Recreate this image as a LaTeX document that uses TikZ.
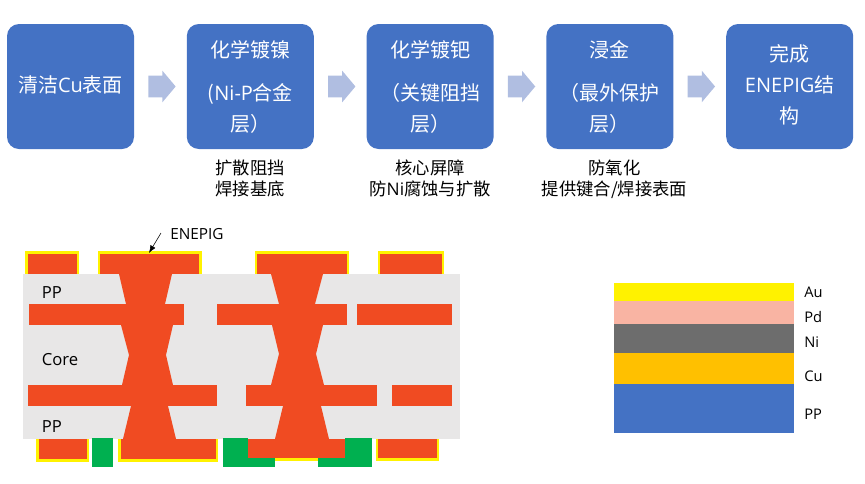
\documentclass[tikz,border=0pt]{standalone}
\usepackage{fontspec}
\usepackage{xcolor}
\setmainfont{Noto Sans CJK SC}
\newfontfamily\latinfont{Open Sans}
\usetikzlibrary{arrows.meta,positioning,shapes.arrows}
\definecolor{boxblue}{HTML}{4472C4}
\definecolor{arrblue}{HTML}{B0BEE1}
\definecolor{cured}{HTML}{F04B22}
\definecolor{coregrey}{HTML}{E8E7E7}
\definecolor{maskgreen}{HTML}{00B050}
\definecolor{pdpink}{HTML}{F9B4A3}
\definecolor{nigrey}{HTML}{6D6D6D}
\definecolor{cuorange}{HTML}{FFC000}
\newcommand{\upline}[2]{\raisebox{#1}[\height][\depth]{#2}}

\begin{document}
\begin{tikzpicture}[
  x=0.75pt,y=-0.75pt,
  node distance=39.6pt and 39.6pt,
  stepbox/.style={fill=boxblue,rounded corners=9pt,align=center,text=white,minimum width=95.25pt,minimum height=93.75pt,inner sep=0pt,outer sep=0pt,font=\fontsize{15}{23}\selectfont},
  flowarr/.style={single arrow,fill=arrblue,minimum height=20.5pt,single arrow head extend=3.75pt,single arrow tip angle=100,inner sep=0pt,outer sep=0pt,xshift=-2.2pt},
  note/.style={align=center,inner sep=0pt,font=\fontsize{13}{15.75}\selectfont},
  lbl/.style={inner sep=0pt,font=\latinfont\fontsize{12.5}{15}\selectfont},
  leg/.style={anchor=west,inner sep=0pt,font=\latinfont\fontsize{11}{13}\selectfont},
  pad/.style={draw=yellow,fill=cured,line width=2pt},
  cu/.style={fill=cured},
  mask/.style={fill=maskgreen}
]
\useasboundingbox (0,0) rectangle (865,483);

% process flow
\node[stepbox,anchor=north west] (clean) at (7,24) {\upline{1.5pt}{清洁{\latinfont Cu}表面}};
\node[stepbox,right=of clean] (ni) {化学镀镍\\[9.5pt]({\latinfont Ni-P}合金\\层）};
\node[stepbox,right=of ni] (pd) {化学镀钯\\[9.5pt]（关键阻挡\\层）};
\node[stepbox,right=of pd] (au) {浸金\\[9.5pt]（最外保护\\层）};
\node[stepbox,right=of au] (done) {\upline{1.5pt}{完成}\\\upline{1.5pt}{{\latinfont ENEPIG}结}\\\upline{.8pt}{构}};
\path (clean) -- node[flowarr] (arr1) {\rule{0pt}{15.75pt}} (ni);
\path (ni) -- node[flowarr] (arr2) {\rule{0pt}{15.75pt}} (pd);
\path (pd) -- node[flowarr] (arr3) {\rule{0pt}{15.75pt}} (au);
\path (au) -- node[flowarr] (arr4) {\rule{0pt}{15.75pt}} (done);
\node[note,below=8pt of ni] (ninote) {扩散阻挡\\焊接基底};
\node[note,below=8pt of pd] (pdnote) {核心屏障\\防{\latinfont Ni}腐蚀与扩散};
\node[note,below=8pt of au,xshift=3.5pt] (aunote) {防氧化\\提供键合/焊接表面};

% outer pads, under the laminate
\foreach \xa/\xb in {26.5/78,99/200.5,256/348,379/443}
  \draw[pad] (\xa,252.5) rectangle (\xb,285);
\foreach \xa/\xb/\yb in {37.5/88/460.5,119.5/217/460.5,247/346/459.5,377/438/459.5}
  \draw[pad] (\xa,430) rectangle (\xb,\yb);
\fill[coregrey] (23,274) rectangle (460,439);

% copper planes
\foreach \xa/\xb in {29/184,217/347,357/452}
  \fill[cu] (\xa,304) rectangle (\xb,325);
\foreach \xa/\xb in {28/217,246/377,392/452}
  \fill[cu] (\xa,385) rectangle (\xb,406);

% vias
\fill[cu] (119,274) -- (126,304) -- (121,325) -- (129,355) -- (122,385) -- (131,406) -- (123,439)
  -- (176,439) -- (168,406) -- (173,385) -- (166,355) -- (173,325) -- (165,304) -- (172,274) -- cycle;
\fill[cu] (271,274) -- (279,304) -- (272,325) -- (279,354) -- (271,385) -- (283,406) -- (275,439)
  -- (329,439) -- (321,406) -- (324,385) -- (316,354) -- (323,325) -- (315,304) -- (323,274) -- cycle;

% solder mask
\fill[mask] (92,438) rectangle (113,467);
\fill[mask] (223,438) rectangle (248,467);
\fill[mask] (248,458) rectangle (275,467);
\fill[mask] (318,458) rectangle (345,467);
\fill[mask] (345,438) rectangle (372,467);

\node[lbl] (pptop) at (52,293) {PP};
\node[lbl] (core) at (60,360) {Core};
\node[lbl] (ppbot) at (52,427) {PP};
\node[inner sep=0pt,font=\latinfont\fontsize{11.5}{13}\selectfont] (enepig) at (197,234) {ENEPIG};
\coordinate (enestart) at (161,233);
\coordinate (eneend) at (149,253);
\draw[-{Latex[length=2mm]}] (enestart) -- (eneend);

% layer stack
\fill[yellow] (614,283) rectangle (794,301);
\fill[pdpink] (614,301) rectangle (794,324);
\fill[nigrey] (614,324) rectangle (794,353);
\fill[cuorange] (614,353) rectangle (794,384);
\fill[boxblue] (614,384) rectangle (794,433);
\node[leg] (legau) at (804,292) {Au};
\node[leg] (legpd) at (804,317) {Pd};
\node[leg] (legni) at (804,342) {Ni};
\node[leg] (legcu) at (804,376) {Cu};
\node[leg] (legpp) at (804,414) {PP};
\end{tikzpicture}
\end{document}
